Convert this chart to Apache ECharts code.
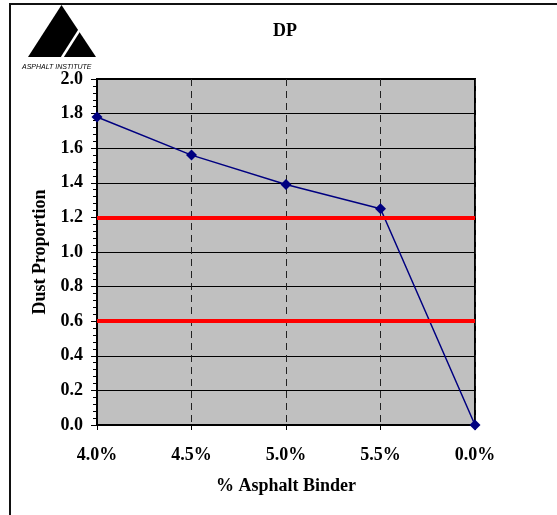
<!DOCTYPE html>
<html>
<head>
<meta charset="utf-8">
<script src="https://cdn.jsdelivr.net/npm/echarts@6/dist/echarts.min.js"></script>
<style>
html,body{margin:0;padding:0;background:#fff;}
#chart{width:557px;height:515px;}
</style>
</head>
<body>
<div id="chart"></div>
<script>
const categories = ['4.0%', '4.5%', '5.0%', '5.5%', '0.0%'];
const dustProportion = [1.78, 1.56, 1.39, 1.25, 0.0];
const limits = [1.2, 0.6];
const yTicks = { min: 0, max: 2, interval: 0.2 };

const serif = '"Liberation Serif", "Times New Roman", serif';
const chart = echarts.init(document.getElementById('chart'), null, { renderer: 'canvas' });

chart.setOption({
  backgroundColor: '#ffffff',
  animation: false,
  title: {
    text: 'DP',
    left: 280,
    top: 17,
    textAlign: 'center',
    textStyle: { fontFamily: serif, fontWeight: 'bold', fontSize: 18, color: '#000' }
  },
  grid: {
    left: 97, right: 82, top: 79, bottom: 90,
    show: true,
    backgroundColor: '#c0c0c0',
    borderColor: '#000',
    borderWidth: 2
  },
  xAxis: {
    type: 'category',
    data: categories,
    boundaryGap: false,
    name: '% Asphalt Binder',
    nameLocation: 'middle',
    nameGap: 52,
    nameTextStyle: { fontFamily: serif, fontWeight: 'bold', fontSize: 18, color: '#000' },
    axisLine: { show: true, lineStyle: { color: '#000', width: 2 } },
    axisTick: { show: true, alignWithLabel: true, length: 5, lineStyle: { color: '#000', width: 1 } },
    axisLabel: { margin: 21, fontFamily: serif, fontWeight: 'bold', fontSize: 18, color: '#000' },
    splitLine: { show: true, lineStyle: { color: '#222', width: 1, type: [7, 5] } }
  },
  yAxis: {
    type: 'value',
    min: yTicks.min,
    max: yTicks.max,
    interval: yTicks.interval,
    name: 'Dust Proportion',
    nameLocation: 'middle',
    nameGap: 45,
    nameTextStyle: { fontFamily: serif, fontWeight: 'bold', fontSize: 18, color: '#000' },
    axisLine: { show: true, lineStyle: { color: '#000', width: 2 } },
    axisTick: { show: true, length: 6, lineStyle: { color: '#000', width: 1 } },
    minorTick: { show: true, splitNumber: 5, length: 4, lineStyle: { color: '#000', width: 1 } },
    axisLabel: {
      margin: 14, fontFamily: serif, fontWeight: 'bold', fontSize: 18, color: '#000',
      formatter: v => v.toFixed(1)
    },
    splitLine: { show: true, lineStyle: { color: '#000', width: 1 } }
  },
  series: [
    {
      type: 'line',
      data: dustProportion,
      z: 3,
      symbol: 'diamond',
      symbolSize: 11,
      lineStyle: { color: '#000080', width: 1.5 },
      itemStyle: { color: '#000080' },
      markLine: {
        silent: true,
        symbol: 'none',
        label: { show: false },
        lineStyle: { color: '#ff0000', width: 4, type: 'solid' },
        data: limits.map(v => ({ yAxis: v }))
      }
    }
  ],
  graphic: [
    { type: 'line', shape: { x1: 9, y1: 4, x2: 557, y2: 4 }, style: { stroke: '#111', lineWidth: 2 } },
    { type: 'line', shape: { x1: 10, y1: 4, x2: 10, y2: 515 }, style: { stroke: '#111', lineWidth: 2 } },
    { type: 'polygon', shape: { points: [[61.5, 5], [96, 57], [28, 57]] }, style: { fill: '#000' } },
    { type: 'line', shape: { x1: 79.5, y1: 30, x2: 62, y2: 57.5 }, style: { stroke: '#fff', lineWidth: 2.5 } },
    {
      type: 'text', left: 22, top: 64,
      style: { text: 'ASPHALT INSTITUTE', font: 'italic 7px "Liberation Sans", Arial, sans-serif', fill: '#000' }
    }
  ]
});
</script>
</body>
</html>
